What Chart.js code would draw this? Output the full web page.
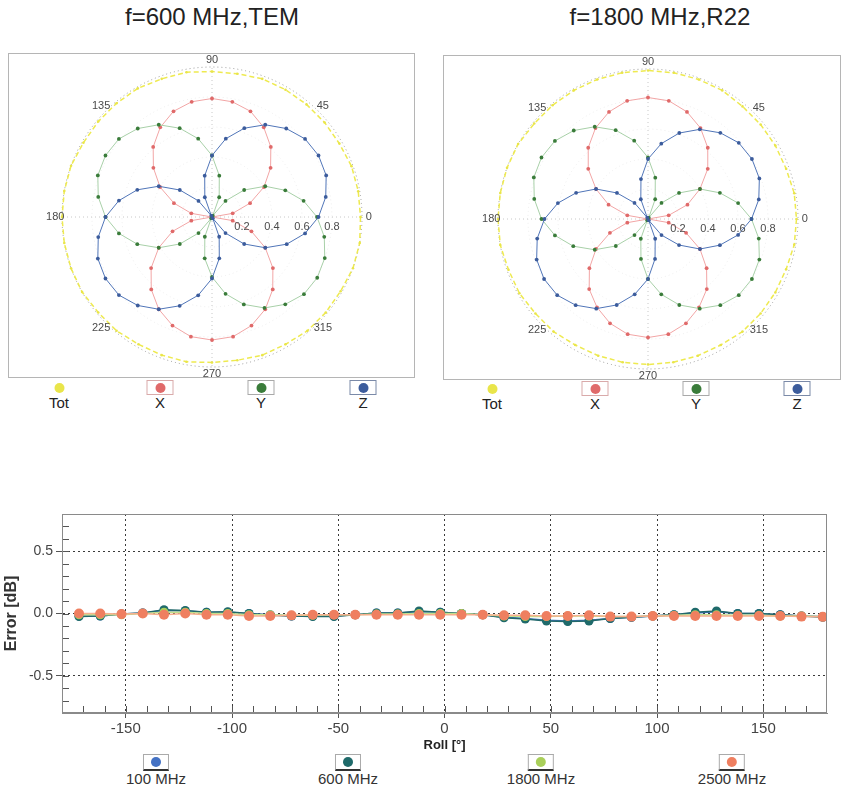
<!DOCTYPE html>
<html><head><meta charset="utf-8">
<script src="https://cdn.jsdelivr.net/npm/chart.js@4.4.1/dist/chart.umd.min.js"></script>
<style>
html,body{margin:0;padding:0;background:#fff;}
body{width:844px;height:792px;position:relative;overflow:hidden;font-family:"Liberation Sans",Arial,sans-serif;}
.title{position:absolute;top:3px;font-size:24px;color:#222;transform:translateX(-50%);white-space:nowrap;}
.frame{position:absolute;border:1px solid #b5b5b5;}
canvas{display:block;}
.leg{position:absolute;transform:translateX(-50%);text-align:center;}
.leg .box{position:relative;margin:0 auto;box-sizing:border-box;}
.leg .dot{position:absolute;left:50%;top:50%;border-radius:50%;transform:translate(-50%,-50%);}
.pl .box{width:27px;height:15px;border:1px solid #aaa;}
.pl .dot{width:10px;height:10px;}
.pl .lbl{font-size:15px;line-height:15px;color:#222;margin-top:0px;}
.bl .box{width:26px;height:17px;border:1px solid #aaa;border-bottom:2px solid #333;}
.bl .dot{width:10px;height:10px;}
.bl .lbl{font-family:"Liberation Sans Narrow","Arial Narrow","Liberation Sans",sans-serif;font-size:15px;line-height:15px;color:#333;white-space:nowrap;}
#bottomWrap{position:absolute;left:0;top:500px;}
</style>
</head>
<body>
<div class="title" style="left:212px">f=600 MHz,TEM</div>
<div class="title" style="left:660px">f=1800 MHz,R22</div>
<div class="frame" style="left:8px;top:53px;width:405px;height:323px"><canvas id="p600" width="405" height="323"></canvas></div>
<div class="frame" style="left:443px;top:55px;width:396px;height:323px"><canvas id="p1800" width="396" height="323"></canvas></div>
<div id="legends"></div>
<div id="bottomWrap"><canvas id="err" width="844" height="262"></canvas></div>
<script>
// ---------- polar data (angle in degrees, normalized field) ----------
const angles = [0,10,20,30,40,50,60,70,80,90,100,110,120,130,140,150,160,170,180,190,200,210,220,230,240,250,260,270,280,290,300,310,320,330,340,350];
const angleTickLabels = [0,45,90,135,180,225,270,315];
const radialTickLabels = [0.2,0.4,0.6,0.8];

const tot600 = [0.99,0.99,0.99,0.98,0.98,0.98,0.98,0.98,0.97,0.97,0.98,0.98,0.99,0.99,0.99,0.99,1.00,1.00,1.00,1.00,1.00,1.00,0.99,0.99,0.98,0.98,0.98,0.97,0.97,0.98,0.98,0.99,0.99,0.99,1.00,1.00];
const x600   = [0.00,0.14,0.27,0.40,0.51,0.61,0.69,0.75,0.78,0.79,0.78,0.75,0.69,0.61,0.51,0.40,0.27,0.14,0.00,0.14,0.28,0.41,0.53,0.63,0.71,0.77,0.81,0.82,0.81,0.77,0.71,0.63,0.53,0.41,0.28,0.14];
const y600   = [0.70,0.62,0.52,0.41,0.28,0.14,0.01,0.14,0.28,0.41,0.53,0.63,0.71,0.77,0.81,0.82,0.81,0.77,0.71,0.63,0.53,0.41,0.28,0.14,0.01,0.14,0.28,0.40,0.52,0.62,0.70,0.76,0.80,0.81,0.80,0.76];
const z600   = [0.71,0.77,0.81,0.82,0.81,0.77,0.71,0.63,0.53,0.41,0.28,0.14,0.01,0.14,0.28,0.41,0.53,0.63,0.71,0.77,0.81,0.82,0.81,0.77,0.71,0.63,0.53,0.41,0.28,0.14,0.01,0.14,0.28,0.41,0.53,0.63];

const tot1800 = [0.99,0.99,0.98,0.98,0.98,0.98,0.99,0.99,0.99,0.99,0.99,0.99,0.99,0.99,0.99,1.00,1.00,1.00,1.00,1.00,0.99,0.99,0.98,0.98,0.97,0.97,0.97,0.97,0.97,0.97,0.97,0.98,0.98,0.98,0.98,0.99];
const x1800   = [0.00,0.14,0.28,0.40,0.52,0.62,0.70,0.76,0.80,0.81,0.80,0.76,0.70,0.62,0.52,0.40,0.28,0.14,0.00,0.14,0.27,0.40,0.51,0.61,0.68,0.74,0.78,0.79,0.78,0.74,0.68,0.61,0.51,0.40,0.27,0.14];
const y1800   = [0.69,0.61,0.51,0.40,0.27,0.14,0.01,0.14,0.28,0.41,0.53,0.63,0.71,0.77,0.81,0.82,0.81,0.77,0.71,0.63,0.53,0.41,0.28,0.14,0.01,0.14,0.27,0.40,0.51,0.61,0.69,0.75,0.79,0.80,0.79,0.75];
const z1800   = [0.69,0.75,0.79,0.80,0.79,0.75,0.69,0.61,0.51,0.40,0.27,0.14,0.01,0.14,0.27,0.40,0.51,0.61,0.69,0.75,0.79,0.80,0.79,0.75,0.69,0.61,0.51,0.40,0.27,0.14,0.01,0.14,0.27,0.40,0.51,0.61];

const polarNames  = ['Tot','X','Y','Z'];
const polarLine   = ['#eeea50','#f2a5a5','#a8d0a8','#5075b8'];
const polarPoint  = ['#e9e54a','#e06a6a','#3a7c3a','#3c5c9c'];
const polarBoxCol = [null,'#d9aaaa','#a9a9a9','#7b8aa8'];

// ---------- roll error data ----------
const roll = [-172,-162,-152,-142,-132,-122,-112,-102,-92,-82,-72,-62,-52,-42,-32,-22,-12,-2,8,18,28,38,48,58,68,78,88,98,108,118,128,138,148,158,168,178];
const err100  = [-0.02,-0.02,-0.005,0.005,0.025,0.02,0.01,0.01,0.00,-0.01,-0.02,-0.02,-0.02,-0.01,0.005,0.005,0.015,0.01,0.00,-0.01,-0.03,-0.04,-0.055,-0.06,-0.055,-0.04,-0.03,-0.02,-0.01,0.005,0.015,0.00,0.00,-0.01,-0.02,-0.025];
const err600  = [-0.025,-0.02,-0.005,0.005,0.03,0.025,0.01,0.015,0.00,-0.015,-0.02,-0.025,-0.025,-0.01,0.005,0.005,0.02,0.01,0.00,-0.01,-0.035,-0.045,-0.06,-0.065,-0.06,-0.04,-0.03,-0.02,-0.01,0.01,0.02,0.00,0.00,-0.01,-0.02,-0.03];
const err1800 = [-0.01,-0.01,-0.01,0.00,0.01,0.01,0.00,0.00,-0.01,-0.01,-0.015,-0.015,-0.01,-0.01,-0.005,-0.005,0.00,0.00,0.00,-0.01,-0.02,-0.025,-0.025,-0.02,-0.02,-0.025,-0.025,-0.02,-0.015,-0.01,-0.01,-0.015,-0.015,-0.02,-0.02,-0.025];
const err2500 = [0.00,0.00,-0.005,0.00,-0.01,0.00,-0.01,-0.01,-0.02,-0.02,-0.015,-0.01,-0.01,-0.01,-0.01,-0.01,-0.01,-0.01,-0.01,-0.01,-0.015,-0.015,-0.02,-0.02,-0.015,-0.025,-0.025,-0.02,-0.02,-0.02,-0.02,-0.02,-0.02,-0.02,-0.025,-0.027];
const errNames = ['100 MHz','600 MHz','1800 MHz','2500 MHz'];
const errLine  = ['#3f6fb5','#22696a','#c2df8a','#f6b08e'];
const errPoint = ['#4472c4','#1f6a6a','#a9cf5a','#ef7f60'];
const xTicks = [-150,-100,-50,0,50,100,150];
const yTicks = [-0.5,0,0.5];
const xMinor = [-170,-160,-150,-140,-130,-120,-110,-100,-90,-80,-70,-60,-50,-40,-30,-20,-10,0,10,20,30,40,50,60,70,80,90,100,110,120,130,140,150,160,170];
const yMinor = [-0.7,-0.6,-0.5,-0.4,-0.3,-0.2,-0.1,0,0.1,0.2,0.3,0.4,0.5,0.6,0.7];

// ---------- polar charts (radar, 0 deg at right, counter-clockwise) ----------
const order = angles.map((_, i) => (angles.length - i) % angles.length);
const pick = arr => order.map(k => arr[k]);
const radarLabels = pick(angles);

const polarText = {
  id: 'polarText',
  afterDraw(chart) {
    const s = chart.scales.r, ctx = chart.ctx;
    ctx.save();
    ctx.font = '11px "Liberation Sans", Arial, sans-serif';
    ctx.fillStyle = '#4a4a4a';
    ctx.textAlign = 'center';
    ctx.textBaseline = 'middle';
    const d = s.getDistanceFromCenterForValue(1.045);
    angleTickLabels.forEach(a => {
      const t = a * Math.PI / 180;
      ctx.fillText(String(a), s.xCenter + d * Math.cos(t), s.yCenter - d * Math.sin(t));
    });
    radialTickLabels.forEach(v => {
      const r = s.getDistanceFromCenterForValue(v);
      ctx.fillText(v.toFixed(1), s.xCenter + r, s.yCenter + 10);
    });
    ctx.restore();
  }
};

function polarChart(id, series, pad) {
  const ds = series.map((vals, k) => ({
    label: polarNames[k],
    data: pick(vals),
    borderColor: polarLine[k],
    backgroundColor: polarPoint[k],
    pointBackgroundColor: polarPoint[k],
    pointBorderColor: polarPoint[k],
    pointRadius: k === 0 ? 1.3 : 1.9,
    pointBorderWidth: 0,
    borderWidth: k === 0 ? 1.5 : 1,
    borderDash: k === 0 ? [5, 3] : [],
    fill: false,
    order: 4 - k
  }));
  return new Chart(document.getElementById(id), {
    type: 'radar',
    data: { labels: radarLabels, datasets: ds },
    options: {
      responsive: false, animation: false,
      layout: { padding: pad },
      plugins: { legend: { display: false }, tooltip: { enabled: false } },
      elements: { line: { tension: 0 } },
      scales: {
        r: {
          min: 0, max: 1, startAngle: 90,
          ticks: { display: false, stepSize: 0.2 },
          pointLabels: { display: false },
          grid: { circular: true, color: c => (c.tick && c.tick.value >= 0.999 ? '#9a9a9a' : '#ececec') },
          border: { dash: [1, 3] },
          angleLines: { color: c => (radarLabels[c.index] % 90 === 0 ? '#c8c8c8' : 'rgba(0,0,0,0)'), borderDash: [1, 3] }
        }
      }
    },
    plugins: [polarText]
  });
}
polarChart('p600', [tot600, x600, y600, z600], { left: 53, top: 13, right: 52, bottom: 10 });
polarChart('p1800', [tot1800, x1800, y1800, z1800], { left: 54, top: 13, right: 42, bottom: 10 });

// ---------- HTML legends ----------
const legendRoot = document.getElementById('legends');
function addPolarLegend(xs, top) {
  polarNames.forEach((n, k) => {
    const el = document.createElement('div');
    el.className = 'leg pl';
    el.style.left = xs[k] + 'px';
    el.style.top = top + 'px';
    const boxStyle = polarBoxCol[k] ? 'border-color:' + polarBoxCol[k] : 'border-color:transparent';
    el.innerHTML = '<div class="box" style="' + boxStyle + '"><span class="dot" style="background:' + polarPoint[k] + '"></span></div><div class="lbl">' + n + '</div>';
    legendRoot.appendChild(el);
  });
}
addPolarLegend([59, 160, 261, 363], 380);
addPolarLegend([492, 595, 696, 797], 381);
const errLegendX = [156, 348, 541, 732];
errNames.forEach((n, k) => {
  const el = document.createElement('div');
  el.className = 'leg bl';
  el.style.left = errLegendX[k] + 'px';
  el.style.top = '754px';
  el.innerHTML = '<div class="box"><span class="dot" style="background:' + errPoint[k] + '"></span></div><div class="lbl">' + n + '</div>';
  legendRoot.appendChild(el);
});

// ---------- roll error chart ----------
const frameAndMinor = {
  id: 'frameAndMinor',
  afterDraw(chart) {
    const { ctx, chartArea: a, scales: { x, y } } = chart;
    ctx.save();
    ctx.strokeStyle = '#555';
    ctx.lineWidth = 1;
    ctx.beginPath();
    xMinor.forEach(v => {
      const px = Math.round(x.getPixelForValue(v)) + 0.5;
      ctx.moveTo(px, a.bottom); ctx.lineTo(px, a.bottom - 7);
    });
    yMinor.forEach(v => {
      const py = Math.round(y.getPixelForValue(v)) + 0.5;
      ctx.moveTo(a.left, py); ctx.lineTo(a.left + 7, py);
    });
    ctx.stroke();
    ctx.strokeStyle = '#8a8a8a';
    ctx.strokeRect(a.left + 0.5, a.top + 0.5, a.right - a.left - 1, a.bottom - a.top - 1);
    ctx.restore();
  }
};
const errSeries = [err100, err600, err1800, err2500];
new Chart(document.getElementById('err'), {
  type: 'scatter',
  data: {
    datasets: errSeries.map((vals, k) => ({
      label: errNames[k],
      data: roll.map((r, i) => ({ x: r, y: vals[i] })),
      showLine: true,
      borderColor: errLine[k],
      backgroundColor: errPoint[k],
      pointBackgroundColor: errPoint[k],
      pointBorderColor: errPoint[k],
      pointRadius: k === 3 ? 5 : 4.5,
      pointBorderWidth: 0,
      borderWidth: 1.5,
      order: 4 - k
    }))
  },
  options: {
    responsive: false, animation: false,
    layout: { padding: { top: 14, right: 17, left: 0, bottom: 0 } },
    plugins: { legend: { display: false }, tooltip: { enabled: false } },
    scales: {
      x: {
        type: 'linear', min: -180, max: 180,
        afterBuildTicks: s => { s.ticks = xTicks.map(v => ({ value: v })); },
        afterFit: s => { s.height = 49; },
        ticks: { autoSkip: false, maxRotation: 0, padding: 2, color: '#444',
                 font: { family: '"Liberation Sans Narrow","Arial Narrow","Liberation Sans",sans-serif', size: 15 },
                 callback: v => String(v) },
        grid: { color: '#3a3a3a', lineWidth: 1, tickColor: '#555', tickLength: 5 },
        border: { display: true, color: '#8a8a8a', dash: [2, 3] },
        title: { display: true, text: 'Roll [°]', color: '#222',
                 font: { family: '"Liberation Sans",Arial,sans-serif', size: 13, weight: 'bold' },
                 padding: { top: 0, bottom: 9 } }
      },
      y: {
        min: -0.8, max: 0.8,
        afterBuildTicks: s => { s.ticks = yTicks.map(v => ({ value: v })); },
        afterFit: s => { s.width = 62; },
        ticks: { padding: 3, color: '#444',
                 font: { family: '"Liberation Sans",Arial,sans-serif', size: 14 },
                 callback: v => v.toFixed(1) },
        grid: { color: '#3a3a3a', lineWidth: 1, tickColor: '#555', tickLength: 6 },
        border: { display: true, color: '#8a8a8a', dash: [2, 3] },
        title: { display: true, text: 'Error [dB]', color: '#333',
                 font: { family: '"Liberation Sans",Arial,sans-serif', size: 16, weight: 'bold' },
                 padding: { top: 2, bottom: 0 } }
      }
    }
  },
  plugins: [frameAndMinor]
});
</script>
</body></html>
